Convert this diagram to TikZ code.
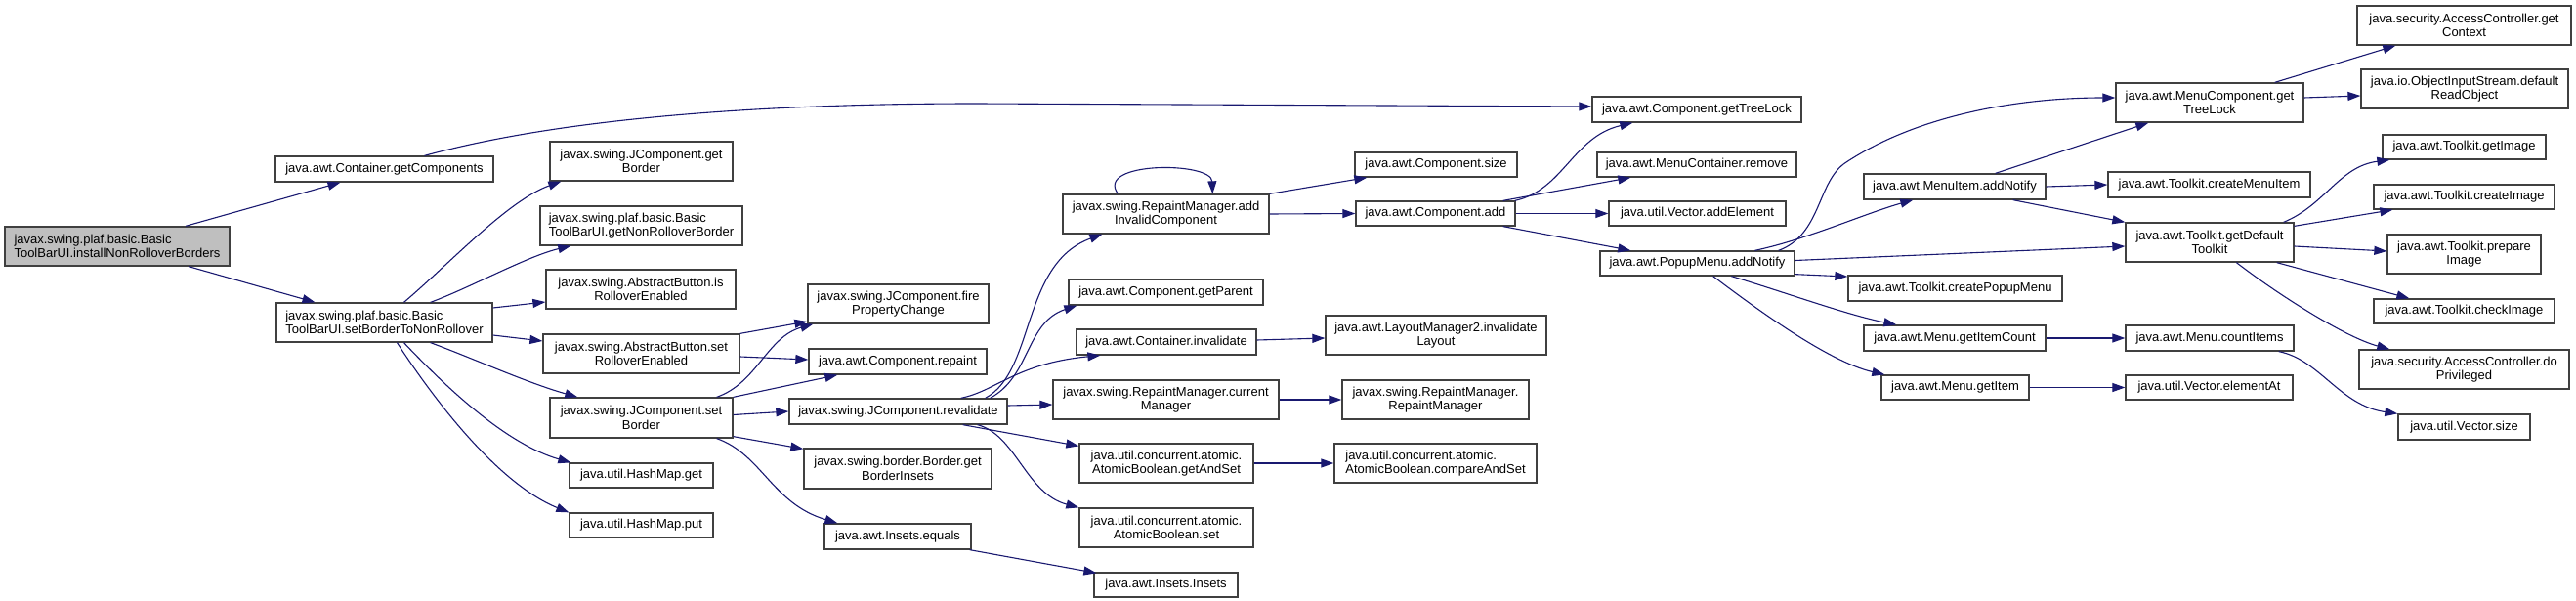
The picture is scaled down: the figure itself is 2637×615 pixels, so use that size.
\documentclass[tikz,border=0pt]{standalone}
\usepackage{fontspec}
\setmainfont{Liberation Sans}
\usetikzlibrary{arrows.meta,calc}
\definecolor{edgeblue}{HTML}{191970}
\definecolor{mainfill}{HTML}{BFBFBF}
\definecolor{boxline}{HTML}{404040}
\begin{document}
\begin{tikzpicture}[x=1pt,y=-1pt,
  box/.style={draw=boxline,line width=1.3pt,fill=white,rectangle,inner sep=0pt,
    font=\fontsize{13}{14.6}\selectfont,align=center},
  lbox/.style={box,align=left},
  mainbox/.style={lbox,fill=mainfill},
  edge/.style={draw=edgeblue,line width=1.1pt,-{Triangle[length=13pt,width=9pt]}}]
\useasboundingbox (0,0) rectangle (2637,615);
% column 1
\node[mainbox,minimum width=230pt,minimum height=40pt] (main) at (120,252) {javax.swing.plaf.basic.Basic\\ToolBarUI.installNonRolloverBorders};
% column 2
\node[box,minimum width=223pt,minimum height=26pt] (getComp) at (393.5,173) {java.awt.Container.getComponents};
\node[lbox,minimum width=221pt,minimum height=40pt] (setBTNR) at (393.5,330) {javax.swing.plaf.basic.Basic\\ToolBarUI.setBorderToNonRollover};
% column 3
\node[box,minimum width=187pt,minimum height=40pt] (getBorder) at (656.5,165) {javax.swing.JComponent.get\\Border};
\node[lbox,minimum width=207pt,minimum height=40pt] (getNRB) at (656.5,231) {javax.swing.plaf.basic.Basic\\ToolBarUI.getNonRolloverBorder};
\node[box,minimum width=194pt,minimum height=40pt] (isRE) at (656,296) {javax.swing.AbstractButton.is\\RolloverEnabled};
\node[box,minimum width=201pt,minimum height=40pt] (setRE) at (656.5,362) {javax.swing.AbstractButton.set\\RolloverEnabled};
\node[box,minimum width=187pt,minimum height=41pt] (setBorder) at (656.5,427.5) {javax.swing.JComponent.set\\Border};
\node[box,minimum width=147pt,minimum height=25pt] (hmGet) at (656.5,486.5) {java.util.HashMap.get};
\node[box,minimum width=147pt,minimum height=25pt] (hmPut) at (656.5,537.5) {java.util.HashMap.put};
% column 4
\node[box,minimum width=185pt,minimum height=40pt] (fire) at (919.5,311) {javax.swing.JComponent.fire\\PropertyChange};
\node[box,minimum width=182pt,minimum height=26pt] (repaint) at (919,370) {java.awt.Component.repaint};
\node[box,minimum width=223pt,minimum height=26pt] (reval) at (919.5,421) {javax.swing.JComponent.revalidate};
\node[box,minimum width=192pt,minimum height=41pt] (bInsets) at (919,479.5) {javax.swing.border.Border.get\\BorderInsets};
\node[box,minimum width=150pt,minimum height=26pt] (insEq) at (919,549) {java.awt.Insets.equals};
% column 5
\node[box,minimum width=211pt,minimum height=40pt] (addInv) at (1193.5,219) {javax.swing.RepaintManager.add\\InvalidComponent};
\node[box,minimum width=199pt,minimum height=26pt] (getParent) at (1193.5,299) {java.awt.Component.getParent};
\node[box,minimum width=184pt,minimum height=26pt] (contInv) at (1194,350) {java.awt.Container.invalidate};
\node[box,minimum width=231pt,minimum height=40pt] (curMgr) at (1193.5,409) {javax.swing.RepaintManager.current\\Manager};
\node[box,minimum width=178pt,minimum height=40pt] (getAndSet) at (1194,474) {java.util.concurrent.atomic.\\AtomicBoolean.getAndSet};
\node[box,minimum width=178pt,minimum height=40pt] (abSet) at (1194,540) {java.util.concurrent.atomic.\\AtomicBoolean.set};
\node[box,minimum width=147pt,minimum height=25pt] (insIns) at (1193.5,598.5) {java.awt.Insets.Insets};
% column 6
\node[box,minimum width=166pt,minimum height=25pt] (compSize) at (1470,168.5) {java.awt.Component.size};
\node[box,minimum width=163pt,minimum height=25pt] (compAdd) at (1469.5,218.5) {java.awt.Component.add};
\node[box,minimum width=226pt,minimum height=40pt] (invLayout) at (1470,343) {java.awt.LayoutManager2.invalidate\\Layout};
\node[box,minimum width=191pt,minimum height=40pt] (rmRM) at (1469.5,409) {javax.swing.RepaintManager.\\RepaintManager};
\node[lbox,minimum width=207pt,minimum height=40pt] (cas) at (1469.5,474) {java.util.concurrent.atomic.\\AtomicBoolean.compareAndSet};
% column 7
\node[box,minimum width=214pt,minimum height=26pt] (treeLock) at (1737,112) {java.awt.Component.getTreeLock};
\node[box,minimum width=204pt,minimum height=25pt] (mcRemove) at (1737,168.5) {java.awt.MenuContainer.remove};
\node[box,minimum width=181pt,minimum height=25pt] (addElem) at (1737.5,218.5) {java.util.Vector.addElement};
\node[box,minimum width=199pt,minimum height=25pt] (popupAN) at (1737.5,269.5) {java.awt.PopupMenu.addNotify};
% column 8
\node[box,minimum width=186pt,minimum height=26pt] (miAN) at (2001,191) {java.awt.MenuItem.addNotify};
\node[box,minimum width=219pt,minimum height=26pt] (crPopup) at (2001.5,295) {java.awt.Toolkit.createPopupMenu};
\node[box,minimum width=186pt,minimum height=26pt] (getItemCount) at (2001,346) {java.awt.Menu.getItemCount};
\node[box,minimum width=151pt,minimum height=25pt] (getItem) at (2001.5,396.5) {java.awt.Menu.getItem};
% column 9
\node[box,minimum width=192pt,minimum height=40pt] (mcTreeLock) at (2262,105) {java.awt.MenuComponent.get\\TreeLock};
\node[box,minimum width=207pt,minimum height=26pt] (crMenuItem) at (2261.5,189) {java.awt.Toolkit.createMenuItem};
\node[box,minimum width=172pt,minimum height=40pt] (defTK) at (2262,248) {java.awt.Toolkit.getDefault\\Toolkit};
\node[box,minimum width=172pt,minimum height=26pt] (countItems) at (2262,346) {java.awt.Menu.countItems};
\node[box,minimum width=171pt,minimum height=25pt] (elementAt) at (2261.5,396.5) {java.util.Vector.elementAt};
% column 10
\node[box,minimum width=219pt,minimum height=40pt] (getContext) at (2522.5,26) {java.security.AccessController.get\\Context};
\node[box,minimum width=212pt,minimum height=40pt] (defRead) at (2523,91) {java.io.ObjectInputStream.default\\ReadObject};
\node[box,minimum width=167pt,minimum height=25pt] (getImage) at (2522.5,150.5) {java.awt.Toolkit.getImage};
\node[box,minimum width=185pt,minimum height=25pt] (createImage) at (2522.5,201.5) {java.awt.Toolkit.createImage};
\node[box,minimum width=157pt,minimum height=40pt] (prepImage) at (2522.5,260) {java.awt.Toolkit.prepare\\Image};
\node[box,minimum width=185pt,minimum height=25pt] (checkImage) at (2522.5,318.5) {java.awt.Toolkit.checkImage};
\node[box,minimum width=215pt,minimum height=40pt] (doPriv) at (2522.5,378) {java.security.AccessController.do\\Privileged};
\node[box,minimum width=135pt,minimum height=26pt] (vecSize) at (2522.5,437) {java.util.Vector.size};

% edges
\draw[edge] ($(main.north)+(70,0)$) -- ($(getComp.south)+(-45,0)$);
\draw[edge] ($(main.south)+(73,0)$) -- ($(setBTNR.north)+(-71,0)$);
\draw[edge] ($(getComp.north)+(41,0)$) .. controls (560,125) and (750,106) .. (1000,106) -- ($(treeLock.west)+(0,-3)$);

\draw[edge] ($(setBTNR.north)+(20,0)$) .. controls (460,270) and (520,205) .. ($(getBorder.south west)+(12,0)$);
\draw[edge] ($(setBTNR.north east)+(-64,0)$) .. controls (480,295) and (540,262) .. ($(getNRB.south west)+(32,0)$);
\draw[edge] ($(setBTNR.east)+(0,-15)$) -- ($(isRE.west)+(0,13)$);
\draw[edge] ($(setBTNR.east)+(0,13)$) -- ($(setRE.west)+(0,-13)$);
\draw[edge] ($(setBTNR.south east)+(-64,0)$) .. controls (480,365) and (540,392) .. ($(setBorder.north west)+(29,0)$);
\draw[edge] ($(setBTNR.south)+(20,0)$) .. controls (460,400) and (520,455) .. ($(hmGet.north west)+(2,0)$);
\draw[edge] ($(setBTNR.south)+(13,0)$) .. controls (445,410) and (510,495) .. ($(hmPut.north west)+(0,0)$);

\draw[edge] (setRE.north east) -- ($(fire.west)+(0,18)$);
\draw[edge] ($(setRE.east)+(0,3)$) -- ($(repaint.west)+(0,-2)$);
\draw[edge] ($(setBorder.north east)+(-17,0)$) .. controls (775,392) and (785,345) .. ($(fire.south west)+(6,0)$);
\draw[edge] (setBorder.north east) -- ($(repaint.south west)+(30,0)$);
\draw[edge] ($(setBorder.east)+(0,-3)$) -- (reval.west);
\draw[edge] ($(setBorder.south east)+(0,-2)$) -- ($(bInsets.north west)+(0,1)$);
\draw[edge] ($(setBorder.south east)+(-17,0)$) .. controls (780,465) and (790,515) .. ($(insEq.north west)+(14,0)$);
\draw[edge] ($(insEq.south east)+(-2,0)$) -- ($(insIns.north west)+(3,1)$);

\draw[edge] ($(reval.north east)+(-23,0)$) .. controls (1060,380) and (1045,270) .. ($(addInv.south west)+(41,0)$);
\draw[edge] ($(reval.north east)+(-18,0)$) .. controls (1055,385) and (1050,330) .. ($(getParent.south west)+(9,0)$);
\draw[edge] ($(reval.north east)+(-48,0)$) .. controls (1020,400) and (1040,372) .. ($(contInv.south west)+(25,0)$);
\draw[edge] ($(reval.east)+(0,-6)$) -- ($(curMgr.west)+(0,5)$);
\draw[edge] ($(reval.south east)+(-46,0)$) -- ($(getAndSet.north west)+(0,3)$);
\draw[edge] ($(reval.south east)+(-31,0)$) .. controls (1040,445) and (1050,505) .. (abSet.north west);

\draw[edge] ($(addInv.north west)+(57,0)$) .. controls (1120,165) and (1240,165) .. ($(addInv.north west)+(154,0)$);
\draw[edge] (addInv.north east) -- ($(compSize.south west)+(13,0)$);
\draw[edge] (addInv.east) -- (compAdd.west);
\draw[edge] ($(contInv.east)+(0,-2)$) -- ($(invLayout.west)+(0,3)$);
\draw[edge] (curMgr.east) -- (rmRM.west);
\draw[edge] (getAndSet.east) -- (cas.west);

\draw[edge] ($(compAdd.north east)+(-1,0)$) .. controls (1600,195) and (1610,140) .. ($(treeLock.south west)+(42,0)$);
\draw[edge] ($(compAdd.north east)+(-13,0)$) -- ($(mcRemove.south west)+(35,0)$);
\draw[edge] (compAdd.east) -- (addElem.west);
\draw[edge] ($(compAdd.south east)+(-13,0)$) -- ($(popupAN.north west)+(32,0)$);

\draw[edge] ($(popupAN.north east)+(-17,0)$) .. controls (1865,240) and (1860,185) .. (1890,166) .. controls (1960,120) and (2060,100) .. ($(mcTreeLock.west)+(0,-5)$);
\draw[edge] ($(popupAN.north west)+(159,0)$) .. controls (1850,245) and (1910,218) .. ($(miAN.south west)+(51,0)$);
\draw[edge] ($(popupAN.east)+(0,-3)$) -- ($(defTK.west)+(0,4)$);
\draw[edge] ($(popupAN.south east)+(0,-2)$) -- ($(crPopup.west)+(0,-12)$);
\draw[edge] ($(popupAN.south west)+(135,0)$) .. controls (1830,300) and (1890,322) .. ($(getItemCount.north west)+(34,0)$);
\draw[edge] ($(popupAN.south east)+(-84,0)$) .. controls (1790,310) and (1870,370) .. ($(getItem.north west)+(4,0)$);

\draw[edge] ($(miAN.north east)+(-52,0)$) -- ($(mcTreeLock.south west)+(34,0)$);
\draw[edge] (miAN.east) -- (crMenuItem.west);
\draw[edge] ($(miAN.south east)+(-34,0)$) -- (defTK.north west);
\draw[edge] (getItemCount.east) -- (countItems.west);
\draw[edge] (getItem.east) -- (elementAt.west);

\draw[edge] ($(mcTreeLock.north east)+(-30,0)$) -- ($(getContext.south west)+(40,0)$);
\draw[edge] ($(mcTreeLock.east)+(0,-5)$) -- ($(defRead.west)+(0,7)$);
\draw[edge] ($(defTK.north east)+(-11,0)$) .. controls (2380,210) and (2395,170) .. ($(getImage.south west)+(8,0)$);
\draw[edge] ($(defTK.north east)+(0,4)$) -- ($(createImage.south west)+(20,0)$);
\draw[edge] ($(defTK.east)+(0,4)$) -- ($(prepImage.west)+(0,-3)$);
\draw[edge] ($(defTK.south east)+(-18,0)$) -- ($(checkImage.north west)+(37,0)$);
\draw[edge] ($(defTK.south west)+(114,0)$) .. controls (2330,300) and (2400,345) .. ($(doPriv.north west)+(32,0)$);
\draw[edge] ($(countItems.south east)+(-16,0)$) .. controls (2375,368) and (2395,415) .. (vecSize.north west);
\end{tikzpicture}
\end{document}
